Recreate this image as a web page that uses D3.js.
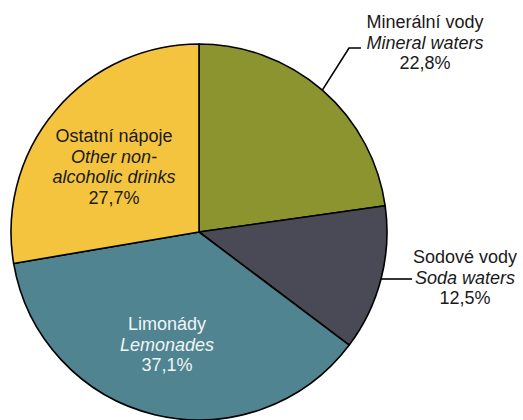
<!DOCTYPE html>
<html>
<head>
<meta charset="utf-8">
<script src="https://cdn.jsdelivr.net/npm/d3@7"></script>
<style>
  html, body { margin: 0; padding: 0; background: #fff; }
  svg { display: block; }
  text { font-family: "Liberation Sans", Arial, sans-serif; font-size: 18px; }
</style>
</head>
<body>
<svg id="chart" width="523" height="420"></svg>
<script>
// ---- data ----
const categoriesCz = ["Minerální vody", "Sodové vody", "Limonády", "Ostatní nápoje"];
const categoriesEn = [["Mineral waters"], ["Soda waters"], ["Lemonades"], ["Other non-", "alcoholic drinks"]];
const values = [22.8, 12.5, 37.1, 27.7];
const valueLabels = ["22,8%", "12,5%", "37,1%", "27,7%"];

// ---- styling / layout ----
const colors = ["#8b942f", "#4a4a57", "#4f8490", "#f4c43f"];
const textColors = ["#1a1a1a", "#1a1a1a", "#f2f5f7", "#1a1a1a"];
const labelAnchors = [[425, 28], [465, 263], [167, 330], [114, 142]];
const lineStep = 20.7;

const svg = d3.select("#chart");
const cx = 199, cy = 232, r = 188;

const pie = d3.pie().sort(null).value(d => d)(values);
const arc = d3.arc().innerRadius(0).outerRadius(r);

const g = svg.append("g").attr("transform", `translate(${cx},${cy})`);
g.selectAll("path.slice")
  .data(pie)
  .join("path")
  .attr("class", "slice")
  .attr("d", arc)
  .attr("fill", (d, i) => colors[i])
  .attr("stroke", "#000")
  .attr("stroke-width", 1.6)
  .attr("stroke-linejoin", "round");

// leader lines: from label elbow, extend along a direction until the circle edge
function hitCircle(p, dir) {
  // solve |p + t*dir - c| = r for smallest positive t
  const px = p[0] - cx, py = p[1] - cy;
  const a = dir[0] * dir[0] + dir[1] * dir[1];
  const b = 2 * (px * dir[0] + py * dir[1]);
  const c = px * px + py * py - r * r;
  const t = (-b - Math.sqrt(b * b - 4 * a * c)) / (2 * a);
  return [p[0] + t * dir[0], p[1] + t * dir[1]];
}
const leaders = [
  { pts: [[361, 48], [349, 48]], dir: [-19, 30] },
  { pts: [[412, 279]], dir: [-1, 0] }
];
leaders.forEach(L => {
  const last = L.pts[L.pts.length - 1];
  const end = hitCircle(last, L.dir);
  svg.append("path")
    .attr("d", d3.line()([...L.pts, end]))
    .attr("fill", "none")
    .attr("stroke", "#000")
    .attr("stroke-width", 1.6);
});

// labels
pie.forEach((s, i) => {
  const lines = [
    { t: categoriesCz[i], it: false },
    ...categoriesEn[i].map(t => ({ t, it: true })),
    { t: valueLabels[i], it: false }
  ];
  const [x, y] = labelAnchors[i];
  const txt = svg.append("text")
    .attr("text-anchor", "middle")
    .attr("fill", textColors[i]);
  lines.forEach((ln, k) => {
    txt.append("tspan")
      .attr("x", x)
      .attr("y", y + k * lineStep)
      .attr("font-style", ln.it ? "italic" : "normal")
      .text(ln.t);
  });
});
</script>
</body>
</html>
